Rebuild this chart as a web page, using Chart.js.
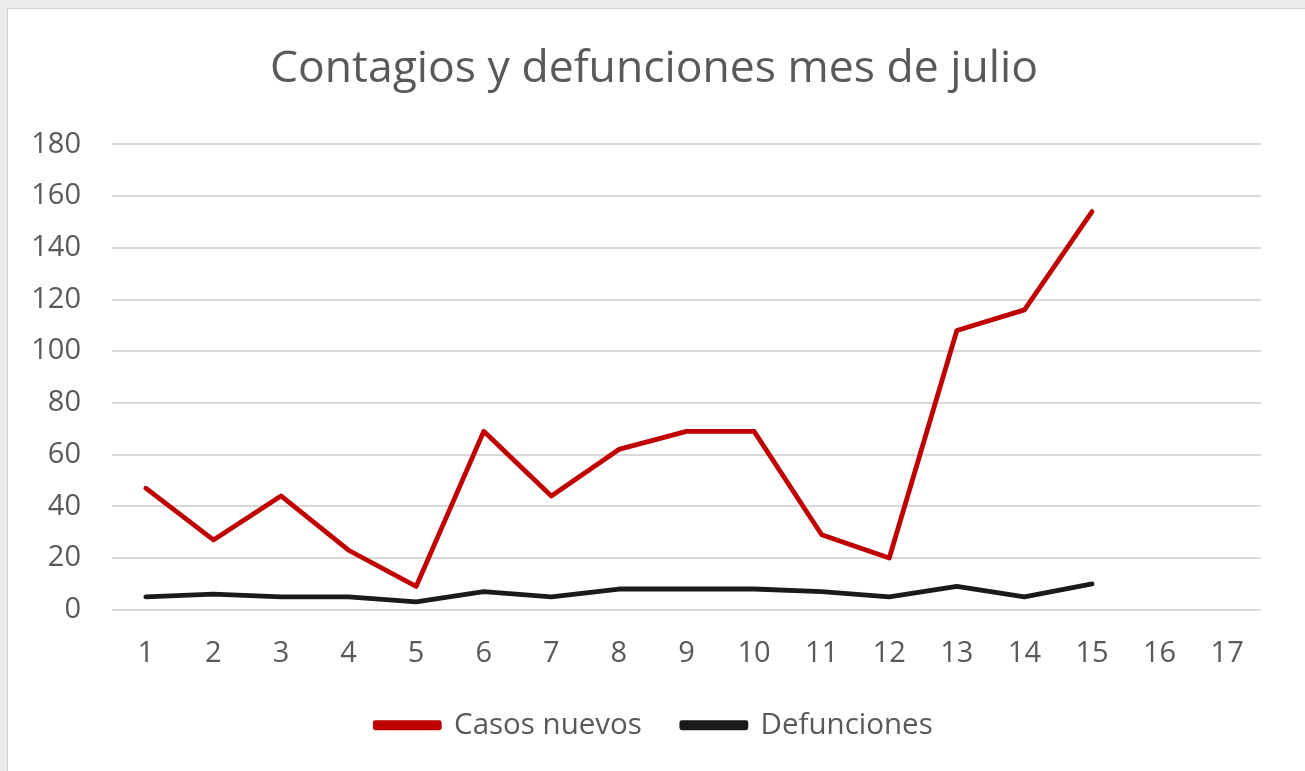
<!DOCTYPE html>
<html>
<head>
<meta charset="utf-8">
<script src="https://cdn.jsdelivr.net/npm/chart.js"></script>
<style>
  body { margin: 0; background: #ebebeb; }
  #box { position: absolute; left: 7px; top: 8px; width: 1297px; height: 762px; background: #fff; border: 1px solid #d4d4d4; border-right: none; border-bottom: none; }
  canvas { display: block; }
</style>
</head>
<body>
<div id="box"><canvas id="graf" width="1297" height="762"></canvas></div>
<script>
// dias del mes de julio
const dias = ["1", "2", "3", "4", "5", "6", "7", "8", "9", "10", "11", "12", "13", "14", "15", "16", "17"];
const casosNuevos = [47, 27, 44, 23, 9, 69, 44, 62, 69, 69, 29, 20, 108, 116, 154];
const defunciones = [5, 6, 5, 5, 3, 7, 5, 8, 8, 8, 7, 5, 9, 5, 10];
const yTicks = [0, 20, 40, 60, 80, 100, 120, 140, 160, 180];

const fuente = "'Open Sans', sans-serif";
const gris = "#595959";

new Chart("graf", {
    type: "line",
    data: {
        labels: dias,
        datasets: [{
            label: "Casos nuevos",
            data: casosNuevos,
            borderColor: "#c00000",
            backgroundColor: "#c00000",
            borderWidth: 4.8,
            pointRadius: 0,
            borderCapStyle: "round",
            borderJoinStyle: "round",
            tension: 0
        }, {
            label: "Defunciones",
            data: defunciones,
            borderColor: "#1a1a1a",
            backgroundColor: "#1a1a1a",
            borderWidth: 4.8,
            pointRadius: 0,
            borderCapStyle: "round",
            borderJoinStyle: "round",
            tension: 0
        }]
    },
    options: {
        responsive: false,
        animation: false,
        layout: { padding: { left: 0, right: 5, top: 0, bottom: 21 } },
        plugins: {
            title: {
                display: true,
                text: "Contagios y defunciones mes de julio",
                color: gris,
                font: { family: fuente, size: 44.5, weight: "normal" },
                padding: { top: 34, bottom: 48 }
            },
            legend: {
                position: "bottom",
                labels: {
                    color: gris,
                    font: { family: fuente, size: 29.5 },
                    boxWidth: 64,
                    boxHeight: 5,
                    padding: 40
                }
            },
            tooltip: { enabled: false }
        },
        scales: {
            x: {
                offset: true,
                afterFit: axis => { axis.height -= 20; },   // la leyenda usa mas padding
                grid: { display: false },
                border: { display: false },
                ticks: { color: gris, font: { family: fuente, size: 29 }, padding: 19, maxRotation: 0 }
            },
            y: {
                min: 0,
                max: 180,
                afterBuildTicks: axis => { axis.ticks = yTicks.map(v => ({ value: v })); },
                afterFit: axis => { axis.width = 104; },
                grid: { color: "#d9d9d9", lineWidth: 2, drawTicks: false },
                border: { display: false },
                ticks: { color: gris, font: { family: fuente, size: 29 }, padding: 31 }
            },
            derecha: {
                position: "right",
                afterFit: axis => { axis.width = 39; },
                grid: { display: false },
                border: { display: false },
                ticks: { display: false }
            }
        }
    }
});
</script>
</body>
</html>
